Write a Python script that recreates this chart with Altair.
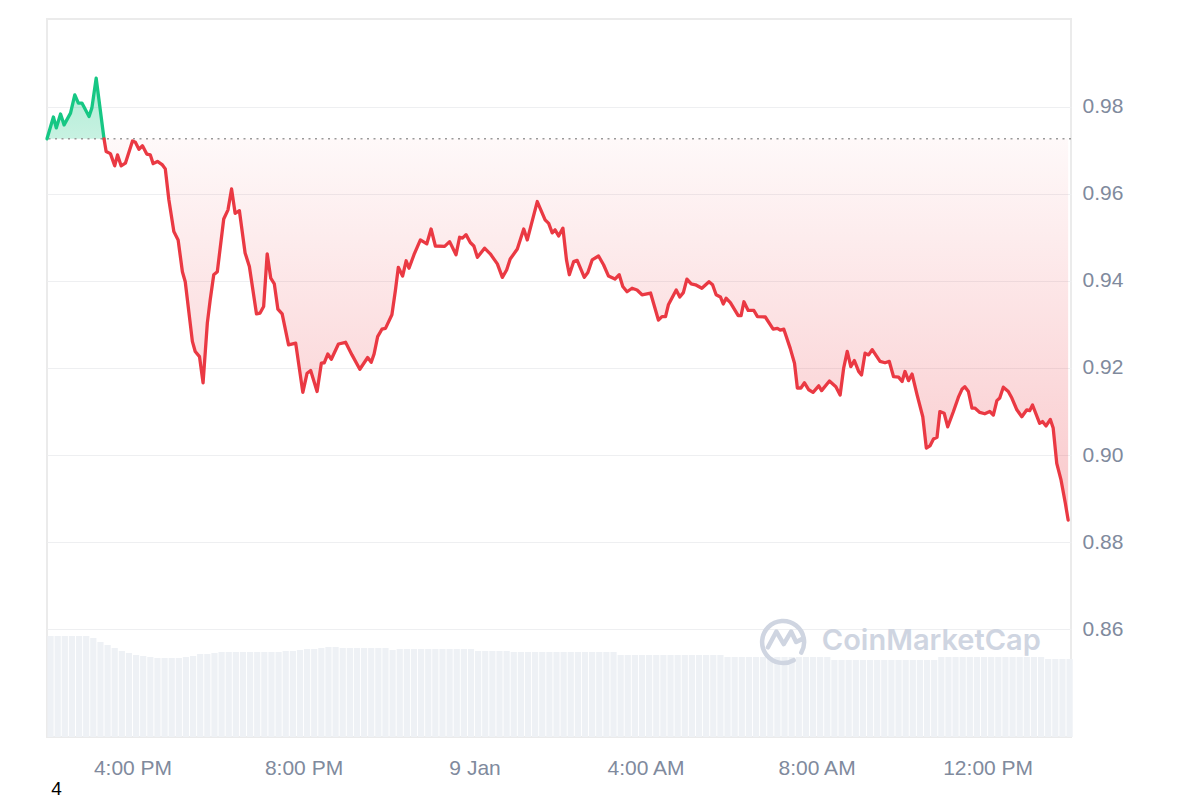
import altair as alt
import pandas as pd

# ---------------- data ----------------
# minutes after 8 Jan 14:00 (UTC) and price in USD
minutes = [
    0, 9, 13, 19, 24, 33, 39, 44, 49, 59, 63, 69, 80,
    83, 89, 95, 99, 104, 110, 120, 124, 129, 134, 140, 145, 149, 155, 162, 166,
    171, 178, 184, 190, 194, 204, 208, 214, 219, 225, 229, 234, 239, 248, 254,
    259, 264, 270, 278, 284, 294, 299, 304, 309, 314, 319, 324, 330, 339, 349,
    359, 365, 370, 379, 385, 389, 394, 399, 409, 419, 428, 439, 450, 455, 459,
    464, 470, 475, 484, 489, 493, 499, 504, 508, 515, 524, 533, 539, 545, 558,
    565, 574, 579, 583, 588, 594, 599, 604, 614, 622, 632, 639, 645, 650, 660,
    669, 674, 688, 699,
    704, 709, 713, 718, 724, 729, 733, 739, 744, 754, 759, 765, 774, 781, 788,
    797, 803, 808, 814, 821, 828, 835, 847, 858, 863, 868, 872, 883, 888, 893,
    898, 904, 910, 919, 929, 934, 939, 945, 949, 953, 959, 970, 974, 978, 984,
    992, 997, 1008, 1019, 1025, 1029, 1034,
    1043, 1049, 1053, 1058, 1063, 1069, 1075, 1083, 1087, 1098, 1107, 1113,
    1118, 1123, 1128, 1133, 1139, 1143, 1148, 1153, 1158, 1169, 1176, 1182,
    1188, 1195, 1200, 1204, 1209, 1214, 1221, 1229, 1234, 1239, 1244, 1249,
    1253, 1259, 1264, 1272, 1279, 1284, 1288, 1293, 1298, 1302, 1309, 1316,
    1323, 1328, 1333, 1337, 1342, 1349, 1354, 1361, 1368, 1375, 1379, 1383,
    1393, 1397, 1402, 1408, 1412, 1417, 1423, 1429, 1433,
]
prices = [
    0.9726, 0.9776, 0.9751, 0.9783, 0.9758, 0.9785, 0.9827, 0.9808, 0.9808,
    0.9777, 0.9797, 0.9865, 0.9726,
    0.9697, 0.9692, 0.9664, 0.9689, 0.9664, 0.9670, 0.9721, 0.9718, 0.9702,
    0.9710, 0.9691, 0.9689, 0.9669, 0.9674, 0.9666, 0.9657, 0.9586, 0.9513,
    0.9494, 0.9421, 0.9398, 0.9261, 0.9238, 0.9226, 0.9166, 0.9303, 0.9356,
    0.9414, 0.9421, 0.9542, 0.9563, 0.9611, 0.9555, 0.9561, 0.9464, 0.9433,
    0.9324, 0.9326, 0.9341, 0.9462, 0.9406, 0.9393, 0.9335, 0.9324, 0.9253,
    0.9257,
    0.9144, 0.9188, 0.9194, 0.9146, 0.9211, 0.9212, 0.9232, 0.9220, 0.9255,
    0.9259, 0.9230, 0.9197, 0.9224, 0.9213, 0.9232, 0.9272, 0.9289, 0.9291,
    0.9322, 0.9379, 0.9431, 0.9411, 0.9446, 0.9429, 0.9460, 0.9494, 0.9485,
    0.9519, 0.9480, 0.9479, 0.9490, 0.9460, 0.9500, 0.9498, 0.9506, 0.9488,
    0.9480, 0.9454, 0.9475, 0.9462, 0.9439, 0.9408, 0.9425, 0.9450, 0.9473,
    0.9519, 0.9494, 0.9582, 0.9540,
    0.9532, 0.9510, 0.9517, 0.9503, 0.9521, 0.9448, 0.9414, 0.9444, 0.9447,
    0.9408, 0.9419, 0.9448, 0.9457, 0.9437, 0.9411, 0.9404, 0.9414, 0.9387,
    0.9375, 0.9383, 0.9379, 0.9368, 0.9372, 0.9310, 0.9318, 0.9318, 0.9345,
    0.9379, 0.9363, 0.9373, 0.9404, 0.9393, 0.9391, 0.9383, 0.9398, 0.9391,
    0.9368, 0.9363, 0.9347, 0.9360, 0.9350, 0.9320, 0.9320, 0.9352, 0.9332,
    0.9332, 0.9318, 0.9317, 0.9289, 0.9291, 0.9287, 0.9289,
    0.9245, 0.9211, 0.9154, 0.9154, 0.9166, 0.9150, 0.9144, 0.9159, 0.9148,
    0.9170, 0.9157, 0.9138, 0.9200, 0.9238, 0.9203, 0.9217, 0.9192, 0.9184,
    0.9234, 0.9230, 0.9242, 0.9215, 0.9212, 0.9215, 0.9180, 0.9179, 0.9169,
    0.9192, 0.9171, 0.9186, 0.9138, 0.9088, 0.9016, 0.9021, 0.9037, 0.9041,
    0.9100, 0.9096, 0.9065, 0.9100, 0.9133, 0.9151, 0.9157, 0.9146, 0.9108,
    0.9108, 0.9098, 0.9095, 0.9100, 0.9092, 0.9125, 0.9131, 0.9156, 0.9146,
    0.9131, 0.9104, 0.9088, 0.9104, 0.9102, 0.9115, 0.9073, 0.9077, 0.9067,
    0.9082, 0.9062, 0.8981, 0.8943, 0.8890, 0.8851,
]
BASELINE = 0.9726          # opening price (dotted reference line)
CROSS_INDEX = 12           # point where the price drops below the open

# volume, one bar per 10 minutes (relative units)
volume = [
    101, 101, 101, 101, 101, 101, 99, 95, 92, 89, 86, 84, 82, 81, 80, 79,
    79, 79, 79, 80, 81, 83, 83, 84, 85, 85, 85, 85, 85, 85, 85, 85,
    85, 86, 86, 87, 88, 88, 89, 90, 90, 89, 89, 89, 89, 89, 89, 89,
    87, 88, 88, 88, 88, 88, 88, 88, 88, 88, 88, 88, 86, 86, 86, 86,
    86, 85, 85, 85, 85, 85, 85, 85, 85, 85, 85, 85, 85, 85, 85, 85,
    82, 82, 82, 82, 82, 82, 82, 82, 82, 82, 82, 82, 82, 82, 82, 80,
    80, 80, 80, 80, 80, 80, 80, 80, 80, 80, 80, 80, 80, 80, 77, 77,
    77, 77, 77, 77, 77, 77, 77, 77, 77, 77, 77, 77, 77, 80, 80, 80,
    80, 80, 80, 80, 80, 80, 80, 80, 80, 80, 80, 80, 78, 78, 78, 78,
]
VOL_STEP_MIN = 10

x_ticks_hours = [(8, 16), (8, 20), (9, 0), (9, 4), (9, 8), (9, 12)]
y_ticks = [0.86, 0.88, 0.90, 0.92, 0.94, 0.96, 0.98]

# ---------------- build tables ----------------
START = pd.Timestamp("2025-01-08 14:00:00")


def iso(m):
    return (START + pd.Timedelta(minutes=m)).strftime("%Y-%m-%dT%H:%M:%SZ")


price_df = pd.DataFrame({"t": [iso(m) for m in minutes], "price": prices})
price_df["base"] = BASELINE
green_df = price_df.iloc[: CROSS_INDEX + 1]
red_df = price_df.iloc[CROSS_INDEX:]

vol_df = pd.DataFrame({
    "t": [iso(i * VOL_STEP_MIN + VOL_STEP_MIN / 2) for i in range(len(volume))],
    "vol": volume,
})
base_df = pd.DataFrame({"price": [BASELINE]})

# ---------------- encodings ----------------
LABEL_COLOR = "#808a9d"
FONT = "Liberation Sans"

x_scale = alt.Scale(
    type="utc",
    domain=[alt.DateTime(year=2025, month=1, date=8, hours=14, utc=True),
            alt.DateTime(year=2025, month=1, date=9, hours=13, minutes=57, utc=True)],
    nice=False,
    padding=0,
)
x_axis = alt.Axis(
    values=[alt.DateTime(year=2025, month=1, date=d, hours=h, utc=True) for d, h in x_ticks_hours],
    labelExpr="utchours(datum.value) == 0 ? utcFormat(datum.value, '%-d %b') : utcFormat(datum.value, '%-I:%M %p')",
    grid=False, ticks=False, domain=False,
    labelFontSize=21, labelColor=LABEL_COLOR, labelFont=FONT, labelPadding=20,
    title=None,
)
x_enc = alt.X("t:T", scale=x_scale, axis=x_axis)

y_scale = alt.Scale(domain=[0.8353, 1.0001], nice=False, zero=False)
y_axis = alt.Axis(
    orient="right", values=y_ticks, format=".2f",
    grid=True, gridColor="#eeeff1", gridWidth=1,
    ticks=False, domain=False,
    labelFontSize=21, labelColor=LABEL_COLOR, labelFont=FONT, labelPadding=11,
    title=None,
)
y_enc = alt.Y("price:Q", scale=y_scale, axis=y_axis)

GREEN = "#16c784"
RED = "#ea3943"

green_grad = alt.Gradient(
    gradient="linear",
    stops=[alt.GradientStop(color="rgba(22,199,132,0.34)", offset=0),
           alt.GradientStop(color="rgba(22,199,132,0.24)", offset=1)],
    x1=0, x2=0, y1=0, y2=1,
)
red_grad = alt.Gradient(
    gradient="linear",
    stops=[alt.GradientStop(color="rgba(234,57,67,0.03)", offset=0),
           alt.GradientStop(color="rgba(234,57,67,0.28)", offset=1)],
    x1=0, x2=0, y1=0, y2=1,
)

green_area = alt.Chart(green_df).mark_area(color=green_grad).encode(
    x=x_enc, y=y_enc, y2=alt.Y2("base:Q"))
red_area = alt.Chart(red_df).mark_area(color=red_grad).encode(
    x=x_enc, y=y_enc, y2=alt.Y2("base:Q"))

base_rule = alt.Chart(base_df).mark_rule(
    color="#9a9a9a", strokeWidth=1.6, strokeDash=[2, 4.5]
).encode(y=y_enc)

green_line = alt.Chart(green_df).mark_line(
    color=GREEN, strokeWidth=3.3, strokeJoin="round", strokeCap="round"
).encode(x=x_enc, y=y_enc)
red_line = alt.Chart(red_df).mark_line(
    color=RED, strokeWidth=3.3, strokeJoin="round", strokeCap="round"
).encode(x=x_enc, y=y_enc)

# watermark
WM = "#cfd5e1"
wm_text_df = pd.DataFrame({"t": [iso(1241)], "price": [0.8574], "label": ["CoinMarketCap"]})
wm_logo_df = pd.DataFrame({"t": [iso(1033)], "price": [0.8571]})
wm_text = alt.Chart(wm_text_df).mark_text(
    font="Inter", fontWeight=600, fontSize=29, color=WM, align="center", baseline="middle"
).encode(x=x_enc, y=y_enc, text="label:N")
logo_path = ("M 0.866 0.5 A 1 1 0 1 0 0.5 0.866 "
             "M -0.72 0.25 L -0.32 -0.5 L 0.03 0.1 L 0.38 -0.5 L 0.62 0.0 L 0.92 -0.15")
wm_logo = alt.Chart(wm_logo_df).mark_point(
    shape=logo_path, size=1764, filled=False, stroke=WM, strokeWidth=4.5,
    strokeJoin="round", strokeCap="round", opacity=1
).encode(x=x_enc, y=y_enc)

price_layer = alt.layer(green_area, red_area, base_rule, green_line, red_line, wm_logo, wm_text)

vol_chart = alt.Chart(vol_df).mark_bar(color="#eef1f5", width=6.2).encode(
    x=x_enc,
    y=alt.Y("vol:Q", scale=alt.Scale(domain=[0, 718], nice=False), axis=None),
)

four = alt.Chart(alt.Data(values=[{}])).mark_text(
    text="4", fontSize=19, color="#000000", font=FONT, align="center", baseline="middle"
).encode(x=alt.value(9.5), y=alt.value(770))

chart = alt.layer(vol_chart, price_layer, four).resolve_scale(y="independent").properties(
    width=1024, height=718,
    padding={"left": 37, "top": 11, "right": 10, "bottom": 5},
    background="white",
).configure_view(stroke="#ebebeb", strokeWidth=2)

chart.save("out.html", embed_options={"renderer": "svg", "actions": False})
